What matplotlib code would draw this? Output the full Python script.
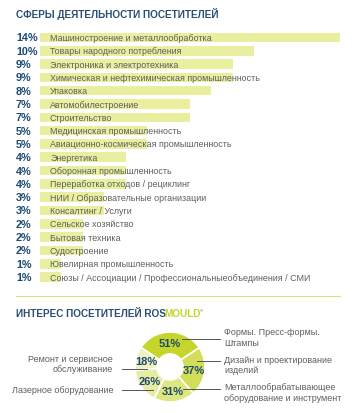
import matplotlib
matplotlib.use("Agg")
import matplotlib.pyplot as plt
from matplotlib.lines import Line2D
import matplotlib.transforms as mtransforms

plt.rcParams['font.family'] = ['Liberation Sans', 'DejaVu Sans']

# --- data ---
sphere_pct = [14, 10, 9, 9, 8, 7, 7, 5, 5, 4, 4, 4, 3, 3, 2, 2, 2, 1, 1]
sphere_names = [
    "Машиностроение и металлообработка",
    "Товары народного потребления",
    "Электроника и электротехника",
    "Химическая и нефтехимическая промышленность",
    "Упаковка",
    "Автомобилестроение",
    "Строительство",
    "Медицинская промышленность",
    "Авиационно-космическая промышленность",
    "Энергетика",
    "Оборонная промышленность",
    "Переработка отходов / рециклинг",
    "НИИ / Образовательные организации",
    "Консалтинг / Услуги",
    "Сельское хозяйство",
    "Бытовая техника",
    "Судостроение",
    "Ювелирная промышленность",
    "Союзы / Ассоциации / Профессиональныеобъединения / СМИ",
]
interest_pct = [51, 37, 31, 26, 18]
interest_names = [
    "Формы. Пресс-формы.\nШтампы",
    "Дизайн и проектирование\nизделий",
    "Металлообрабатывающее\nоборудование и инструмент",
    "Лазерное оборудование",
    "Ремонт и сервисное\nобслуживание",
]
interest_colors = ["#c6d52c", "#d3de58", "#dde67f", "#e6eca2", "#eef2c2"]

W, H = 354, 414
navy = "#1d4a70"
grey = "#5e5e5e"
bar_color = "#e9ef9f"

fig = plt.figure(figsize=(W / 100, H / 100), dpi=100)


def fx(x):
    return x / W


def fy(y):
    return 1 - y / H


# titles
fig.text(fx(16), fy(14), "СФЕРЫ ДЕЯТЕЛЬНОСТИ ПОСЕТИТЕЛЕЙ", fontsize=7.2,
         fontweight="bold", color="#2a4f73", va="center", ha="left")

# bars
top, bottom = 31.8, 284.7
ax = fig.add_axes([fx(40), fy(bottom), fx(340) - fx(40), (bottom - top) / H])
n = len(sphere_pct)
ypos = list(range(n))
ax.barh(ypos, sphere_pct, height=0.72, color=bar_color, zorder=1)
ax.set_xlim(0, 14)
ax.set_ylim(n - 0.5, -0.5)
ax.axis("off")
trans = mtransforms.blended_transform_factory(fig.transFigure, ax.transData)
for i, (p, name) in enumerate(zip(sphere_pct, sphere_names)):
    ax.text(fx(16), i, f"{p}%", transform=trans, fontsize=7.8, fontweight="bold",
            color=navy, va="center", ha="left")
    ax.text(fx(50), i, name, transform=trans, fontsize=6.4, color=grey,
            va="center", ha="left", zorder=2)

# separator
fig.add_artist(Line2D([fx(16), fx(340)], [fy(297), fy(297)], color="#d9e27f", lw=0.8))

# second title
t = fig.text(fx(16), fy(314), "ИНТЕРЕС ПОСЕТИТЕЛЕЙ ROS", fontsize=7.2,
             fontweight="bold", color="#2a4f73", va="center", ha="left")
fig.canvas.draw()
bb = t.get_window_extent()
t2 = fig.text((bb.x1 - 1.2) / W, fy(314), "MOULD", fontsize=7.2, fontweight="bold",
              color="#c6d52c", va="center", ha="left")
fig.canvas.draw()
bb2 = t2.get_window_extent()
fig.text((bb2.x1 - 1) / W, fy(312), "*", fontsize=6, color="#999999",
         va="center", ha="left")

# donut
cx, cy, R = 170, 368, 35
pax = fig.add_axes([fx(cx - 40), fy(cy + 40), 80 / W, 80 / H])
total = sum(interest_pct)
wedges, _, autotexts = pax.pie(
    interest_pct, colors=interest_colors, radius=R, startangle=146,
    counterclock=False, autopct=lambda p: f"{round(p * total / 100)}%",
    pctdistance=0.69, wedgeprops=dict(width=22, edgecolor="white", linewidth=1.2),
    textprops=dict(fontsize=8, fontweight="bold", color=navy))
pax.set_xlim(-40, 40)
pax.set_ylim(-40, 40)
pax.set_aspect("equal")
pax.axis("off")

# leader lines and labels
right_lines = [(182, 340), (197, 362), (183, 390)]
right_text_y = [338, 365.5, 393]
for (x0, y0), ty, name in zip(right_lines, right_text_y, interest_names[:3]):
    fig.add_artist(Line2D([fx(x0), fx(220)], [fy(y0), fy(y0)], color="#555555", lw=0.7))
    fig.text(fx(224), fy(ty), name, fontsize=6.5, color=grey, va="center",
             ha="left", linespacing=1.2)
left_lines = [(153, 391), (147, 370)]
left_text_y = [391, 364.5]
for (x1, y1), ty, name in zip(left_lines, left_text_y, interest_names[3:]):
    fig.add_artist(Line2D([fx(122), fx(x1)], [fy(y1), fy(y1)], color="#555555", lw=0.7))
    fig.text(fx(113), fy(ty), name, fontsize=6.5, color=grey, va="center",
             ha="right", multialignment="right", linespacing=1.2)

fig.savefig("out.png", dpi=100)
